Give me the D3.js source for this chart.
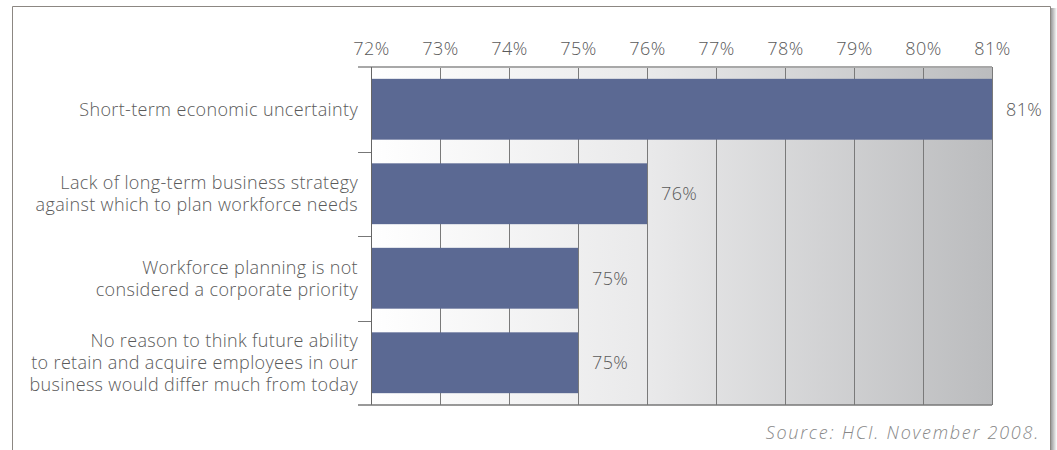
<!DOCTYPE html>
<html>
<head>
<meta charset="utf-8">
<script src="https://cdn.jsdelivr.net/npm/d3@7"></script>
<style>
  body { margin: 0; background: #fff; }
  svg { display: block; font-family: "Open Sans", Lato, sans-serif; font-weight: 300; }
</style>
</head>
<body>
<div id="chart"></div>
<script>
// Data
let categories = [
  ['Short-term economic uncertainty'],
  ['Lack of long-term business strategy', 'against which to plan workforce needs'],
  ['Workforce planning is not', 'considered a corporate priority'],
  ['No reason to think future ability', 'to retain and acquire employees in our', 'business would differ much from today']
];
let values = [81, 76, 75, 75];
let tickValues = [72, 73, 74, 75, 76, 77, 78, 79, 80, 81];
let sourceText = 'Source: HCI. November 2008.';

const W = 1057, H = 450;
const margin = {top: 67, left: 371, right: 65, bottom: 45};
let w = W - margin.left - margin.right;   // 621
let h = H - margin.top - margin.bottom;   // 338
const textColor = '#5a5a5a';

let svg = d3.select('#chart').append('svg')
  .attr('width', W)
  .attr('height', H);

// frame
let defs = svg.append('defs');
let shadow = defs.append('linearGradient').attr('id', 'shadow');
shadow.append('stop').attr('offset', '0%').attr('stop-color', '#9a9a9a');
shadow.append('stop').attr('offset', '100%').attr('stop-color', '#ffffff');
svg.append('rect').attr('x', 1051).attr('y', 8).attr('width', 6).attr('height', H)
  .attr('fill', 'url(#shadow)');
svg.append('path')
  .attr('d', `M12.5,${H} V6.5 H1050.5 V${H}`)
  .attr('fill', 'none')
  .attr('stroke', '#8c8782')
  .attr('stroke-width', 1);

// background gradient
let bg = defs.append('linearGradient').attr('id', 'bg');
bg.append('stop').attr('offset', '0%').attr('stop-color', '#ffffff');
bg.append('stop').attr('offset', '45%').attr('stop-color', '#e9e9ea');
bg.append('stop').attr('offset', '100%').attr('stop-color', '#bbbcbe');

let g = svg.append('g').attr('transform', `translate(${margin.left},${margin.top})`);

let x = d3.scaleLinear().domain([72, 81]).range([0, w]);
let y = d3.scaleBand()
  .domain(d3.range(categories.length))
  .range([0, h])
  .paddingInner(0.28)
  .paddingOuter(0.14);

g.append('rect')
  .attr('width', w).attr('height', h)
  .attr('fill', 'url(#bg)');

// vertical grid lines
g.selectAll('.grid')
  .data(tickValues)
  .enter().append('line')
    .attr('class', 'grid')
    .attr('x1', d => Math.round(x(d)) + 0.5)
    .attr('x2', d => Math.round(x(d)) + 0.5)
    .attr('y1', 0).attr('y2', h)
    .attr('stroke', '#7a7a7a')
    .attr('stroke-width', 1);

// bars
g.selectAll('.bar')
  .data(values)
  .enter().append('rect')
    .attr('class', 'bar')
    .attr('x', 0)
    .attr('y', (d, i) => y(i))
    .attr('width', d => x(d))
    .attr('height', y.bandwidth())
    .attr('fill', '#5b6993');

// value labels
g.selectAll('.val')
  .data(values)
  .enter().append('text')
    .attr('x', d => x(d) + 14)
    .attr('y', (d, i) => y(i) + y.bandwidth() / 2)
    .attr('dy', '0.35em')
    .attr('font-size', 18)
    .attr('letter-spacing', 0.4)
    .attr('fill', textColor)
    .text(d => d + '%');

// top axis
let xAxis = d3.axisTop(x)
  .tickValues(tickValues)
  .tickSize(0)
  .tickPadding(12)
  .tickFormat(d => d + '%');
let ax = g.append('g').call(xAxis);
ax.select('.domain').remove();
ax.selectAll('text')
  .attr('font-size', 18)
  .attr('letter-spacing', 0.4)
  .attr('fill', textColor)
  .attr('font-family', '"Open Sans", sans-serif')
  .attr('font-weight', 300);
g.append('line')
  .attr('x1', -13).attr('x2', w)
  .attr('y1', 0).attr('y2', 0)
  .attr('stroke', '#a8a8a8').attr('stroke-width', 2);

// left axis line, separator ticks, bottom line
g.append('line')
  .attr('x1', 0.5).attr('x2', 0.5).attr('y1', 0).attr('y2', h)
  .attr('stroke', '#666');
let step = y.step();
g.selectAll('.sep')
  .data(d3.range(1, categories.length))
  .enter().append('line')
    .attr('x1', -13).attr('x2', 0)
    .attr('y1', d => Math.round(d * step) + 0.5)
    .attr('y2', d => Math.round(d * step) + 0.5)
    .attr('stroke', '#777');
g.append('line')
  .attr('x1', -13).attr('x2', w)
  .attr('y1', h).attr('y2', h)
  .attr('stroke', '#777').attr('stroke-width', 1.5);

// category labels
let lineH = 22;
categories.forEach((lines, i) => {
  let cy = y(i) + y.bandwidth() / 2;
  let t = g.append('text')
    .attr('text-anchor', 'end')
    .attr('font-size', 18)
    .attr('letter-spacing', 0.35)
    .attr('fill', textColor);
  lines.forEach((s, j) => {
    t.append('tspan')
      .attr('x', -13)
      .attr('y', cy + (j - (lines.length - 1) / 2) * lineH)
      .attr('dy', '0.35em')
      .text(s);
  });
});

// source
svg.append('text')
  .attr('x', 1040).attr('y', 439)
  .attr('text-anchor', 'end')
  .attr('font-size', 18)
  .attr('font-style', 'italic')
  .attr('letter-spacing', 1.75)
  .attr('fill', '#888')
  .text(sourceText);
</script>
</body>
</html>
